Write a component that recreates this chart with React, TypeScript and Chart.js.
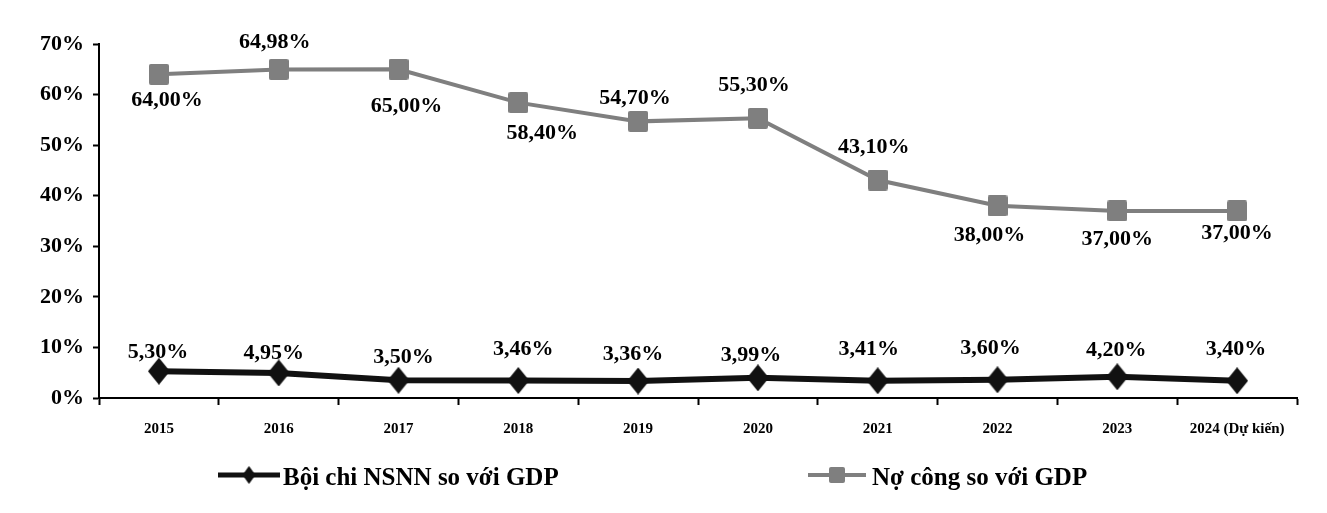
import React, { useEffect, useRef } from "react";
import { Chart, registerables } from "chart.js";

Chart.register(...registerables);

// Years on the horizontal axis
const years = [
  "2015", "2016", "2017", "2018", "2019",
  "2020", "2021", "2022", "2023", "2024 (Dự kiến)",
];

// Budget deficit as % of GDP
const deficitValues = [5.3, 4.95, 3.5, 3.46, 3.36, 3.99, 3.41, 3.6, 4.2, 3.4];

// Public debt as % of GDP
const debtValues = [64.0, 64.98, 65.0, 58.4, 54.7, 55.3, 43.1, 38.0, 37.0, 37.0];

const seriesNames = ["Bội chi NSNN so với GDP", "Nợ công so với GDP"];

// Y axis range / step (percent)
const yMin = 0;
const yMax = 70;
const yStep = 10;

// Value label offsets from each point (pixels)
const deficitLabelDx = [-1, -5, 5, 5, -5, -7, -9, -7, -1, -1];
const deficitLabelDy = [-19, -20, -23, -31, -27, -23, -31, -31, -26, -31];
const debtLabelDx = [8, -4, 8, 24, -3, -4, -4, -8, 0, 0];
const debtLabelDy = [26, -27, 37, 31, -23, -33, -33, 29, 28, 22];

const FONT = '"Liberation Serif", "Times New Roman", serif';
const DEFICIT_COLOR = "#111111";
const DEBT_COLOR = "#7f7f7f";

function makeDiamond(w: number, h: number, color: string) {
  const c = document.createElement("canvas");
  c.width = w;
  c.height = h;
  const ctx = c.getContext("2d")!;
  ctx.fillStyle = color;
  ctx.beginPath();
  ctx.moveTo(w / 2, 0);
  ctx.lineTo(w, h / 2);
  ctx.lineTo(w / 2, h);
  ctx.lineTo(0, h / 2);
  ctx.closePath();
  ctx.fill();
  return c;
}

function makeSquare(w: number, h: number, color: string) {
  const c = document.createElement("canvas");
  c.width = w;
  c.height = h;
  const ctx = c.getContext("2d")!;
  ctx.fillStyle = color;
  ctx.beginPath();
  (ctx as any).roundRect(0, 0, w, h, 2);
  ctx.fill();
  return c;
}

const fmt = (v: number) => v.toFixed(2).replace(".", ",") + "%";

export default function App() {
  const canvasRef = useRef<HTMLCanvasElement | null>(null);

  useEffect(() => {
    if (!canvasRef.current) return;

    const deficitMarker = makeDiamond(22, 27, DEFICIT_COLOR);
    const debtMarker = makeSquare(20, 21, DEBT_COLOR);
    const deficitLegendMarker = makeDiamond(13, 18, DEFICIT_COLOR);
    const debtLegendMarker = makeSquare(16, 16, DEBT_COLOR);

    // Value labels next to each point
    const valueLabels = {
      id: "valueLabels",
      afterDatasetsDraw(chart: any) {
        const ctx = chart.ctx;
        ctx.save();
        ctx.font = `bold 22px ${FONT}`;
        ctx.fillStyle = "#000";
        ctx.textAlign = "center";
        ctx.textBaseline = "middle";
        const offsets = [
          [deficitLabelDx, deficitLabelDy],
          [debtLabelDx, debtLabelDy],
        ];
        chart.data.datasets.forEach((ds: any, di: number) => {
          const meta = chart.getDatasetMeta(di);
          meta.data.forEach((pt: any, i: number) => {
            const [dxs, dys] = offsets[di];
            ctx.fillText(fmt(ds.data[i]), pt.x + dxs[i], pt.y + dys[i]);
          });
        });
        ctx.restore();
      },
    };

    // Legend under the axis: line + marker + series name
    const bottomLegend = {
      id: "bottomLegend",
      afterDraw(chart: any) {
        const ctx = chart.ctx;
        const area = chart.chartArea;
        const y = 467;
        const items = [
          { x: area.left + 119, len: 62, gap: 3, marker: deficitLegendMarker },
          { x: area.left + 709, len: 58, gap: 6, marker: debtLegendMarker },
        ];
        ctx.save();
        chart.data.datasets.forEach((ds: any, i: number) => {
          const it = items[i];
          ctx.strokeStyle = ds.borderColor;
          ctx.lineWidth = i === 0 ? 5 : 4;
          ctx.beginPath();
          ctx.moveTo(it.x, y);
          ctx.lineTo(it.x + it.len, y);
          ctx.stroke();
          const m = it.marker;
          ctx.drawImage(m, it.x + it.len / 2 - m.width / 2, y - m.height / 2);
          ctx.font = `bold 25px ${FONT}`;
          ctx.fillStyle = "#000";
          ctx.textAlign = "left";
          ctx.textBaseline = "alphabetic";
          ctx.fillText(ds.label, it.x + it.len + it.gap, y + 10);
        });
        ctx.restore();
      },
    };

    const chart = new Chart(canvasRef.current, {
      type: "line",
      data: {
        labels: years,
        datasets: [
          {
            label: seriesNames[0],
            data: deficitValues,
            borderColor: DEFICIT_COLOR,
            backgroundColor: DEFICIT_COLOR,
            borderWidth: 6,
            pointStyle: deficitMarker as any,
            pointRadius: 12,
            tension: 0,
            clip: false as any,
          },
          {
            label: seriesNames[1],
            data: debtValues,
            borderColor: DEBT_COLOR,
            backgroundColor: DEBT_COLOR,
            borderWidth: 4,
            pointStyle: debtMarker as any,
            pointRadius: 10,
            tension: 0,
            clip: false as any,
          },
        ],
      },
      options: {
        animation: false,
        responsive: true,
        maintainAspectRatio: false,
        layout: { padding: { left: 0, top: 36, right: 22, bottom: 57 } },
        plugins: {
          legend: { display: false },
          tooltip: { enabled: false },
        },
        scales: {
          x: {
            offset: true,
            grid: {
              display: true,
              offset: true,
              drawOnChartArea: false,
              drawTicks: true,
              tickLength: 7,
              tickColor: "#000",
              tickWidth: 2,
            },
            border: { display: true, color: "#000", width: 2 },
            ticks: {
              color: "#000",
              font: { family: FONT, size: 15, weight: "bold" },
              padding: 15,
              maxRotation: 0,
              autoSkip: false,
            },
            afterFit: (scale: any) => {
              scale.height = 50;
            },
          },
          y: {
            min: yMin,
            max: yMax,
            grid: {
              display: true,
              drawOnChartArea: false,
              drawTicks: true,
              tickLength: 6,
              tickColor: "#000",
              tickWidth: 2,
            },
            border: { display: true, color: "#000", width: 2 },
            ticks: {
              stepSize: yStep,
              color: "#000",
              font: { family: FONT, size: 22, weight: "bold" },
              padding: 9,
              callback: (v: any) => `${v}%`,
            },
            afterFit: (scale: any) => {
              scale.width = 91;
            },
          },
        },
      },
      plugins: [valueLabels, bottomLegend],
    });

    return () => chart.destroy();
  }, []);

  return (
    <div style={{ position: "relative", width: "100%", height: 497 }}>
      <canvas ref={canvasRef} />
    </div>
  );
}
